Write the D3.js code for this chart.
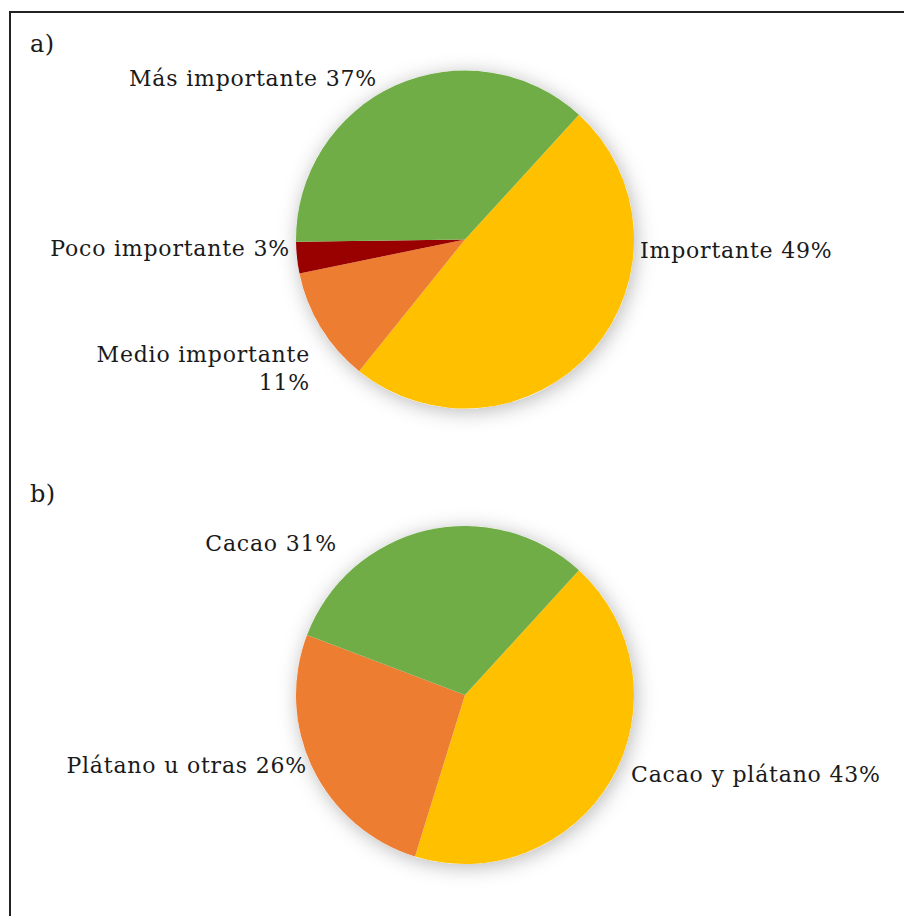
<!DOCTYPE html>
<html>
<head>
<meta charset="utf-8">
<script src="https://cdn.jsdelivr.net/npm/d3@7"></script>
<style>
  html, body { margin: 0; padding: 0; background: #fff; }
  svg { display: block; }
  text { font-family: "DejaVu Serif", "Liberation Serif", serif; fill: #1a1a1a; }
</style>
</head>
<body>
<div id="chart"></div>
<script>
// Panel a) importance of the crop
const categoriesA = ["Importante", "Medio importante", "Poco importante", "Más importante"];
const valuesA = [49, 11, 3, 37];
const colorsA = ["#FFC000", "#ED7D31", "#990000", "#70AD47"];

// Panel b) crops grown
const categoriesB = ["Cacao y plátano", "Plátano u otras", "Cacao"];
const valuesB = [43, 26, 31];
const colorsB = ["#FFC000", "#ED7D31", "#70AD47"];

const W = 904, H = 916;
const svg = d3.select("#chart").append("svg").attr("width", W).attr("height", H);

// soft shadow under each pie
const defs = svg.append("defs");
const f = defs.append("filter").attr("id", "pieShadow")
  .attr("x", "-30%").attr("y", "-30%").attr("width", "160%").attr("height", "160%");
f.append("feDropShadow").attr("dx", 2).attr("dy", 3).attr("stdDeviation", 10)
  .attr("flood-color", "#000").attr("flood-opacity", 0.28);

// outer frame (open on the right and bottom edges)
svg.append("path")
  .attr("d", `M${W + 5},12 H10 V${H + 5}`)
  .attr("fill", "none").attr("stroke", "#222").attr("stroke-width", 2);

const startDeg = 42.4;

function drawPie(cfg) {
  const g = svg.append("g").attr("transform", `translate(${cfg.cx},${cfg.cy})`);
  const pie = d3.pie().sort(null)
    .startAngle(startDeg * Math.PI / 180)
    .endAngle((startDeg + 360) * Math.PI / 180);
  const arcs = pie(cfg.values);
  const arc = d3.arc().innerRadius(0).outerRadius(cfg.r);
  const color = d3.scaleOrdinal().domain(cfg.categories).range(cfg.colors);

  g.append("circle").attr("r", cfg.r).attr("fill", "#fff").attr("filter", "url(#pieShadow)");
  g.selectAll("path.slice").data(arcs).join("path")
    .attr("class", "slice")
    .attr("d", arc)
    .attr("fill", (d, i) => color(cfg.categories[i]));

  // panel letter
  svg.append("text").attr("x", 30).attr("y", cfg.letterY)
    .attr("font-size", 24).attr("letter-spacing", 0.5).text(cfg.letter);

  // slice labels
  cfg.categories.forEach((c, i) => {
    const L = cfg.labels[c];
    const t = svg.append("text")
      .attr("font-size", 22)
      .attr("letter-spacing", 0.8)
      .attr("text-anchor", L.anchor);
    const txt = `${c} ${cfg.values[i]}%`;
    if (L.wrap) {
      t.append("tspan").attr("x", L.x).attr("y", L.y).text(c);
      t.append("tspan").attr("x", L.x).attr("y", L.y + 28).text(`${cfg.values[i]}%`);
    } else {
      t.attr("x", L.x).attr("y", L.y).text(txt);
    }
  });
}

drawPie({
  cx: 465, cy: 239.5, r: 169,
  categories: categoriesA, values: valuesA, colors: colorsA,
  letter: "a)", letterY: 52,
  labels: {
    "Importante": { x: 640, y: 258, anchor: "start" },
    "Medio importante": { x: 310, y: 362, anchor: "end", wrap: true },
    "Poco importante": { x: 290, y: 256, anchor: "end" },
    "Más importante": { x: 377, y: 86, anchor: "end" }
  }
});

drawPie({
  cx: 465, cy: 695, r: 169,
  categories: categoriesB, values: valuesB, colors: colorsB,
  letter: "b)", letterY: 502,
  labels: {
    "Cacao y plátano": { x: 631, y: 782, anchor: "start" },
    "Plátano u otras": { x: 307, y: 773, anchor: "end" },
    "Cacao": { x: 337, y: 551, anchor: "end" }
  }
});
</script>
</body>
</html>
